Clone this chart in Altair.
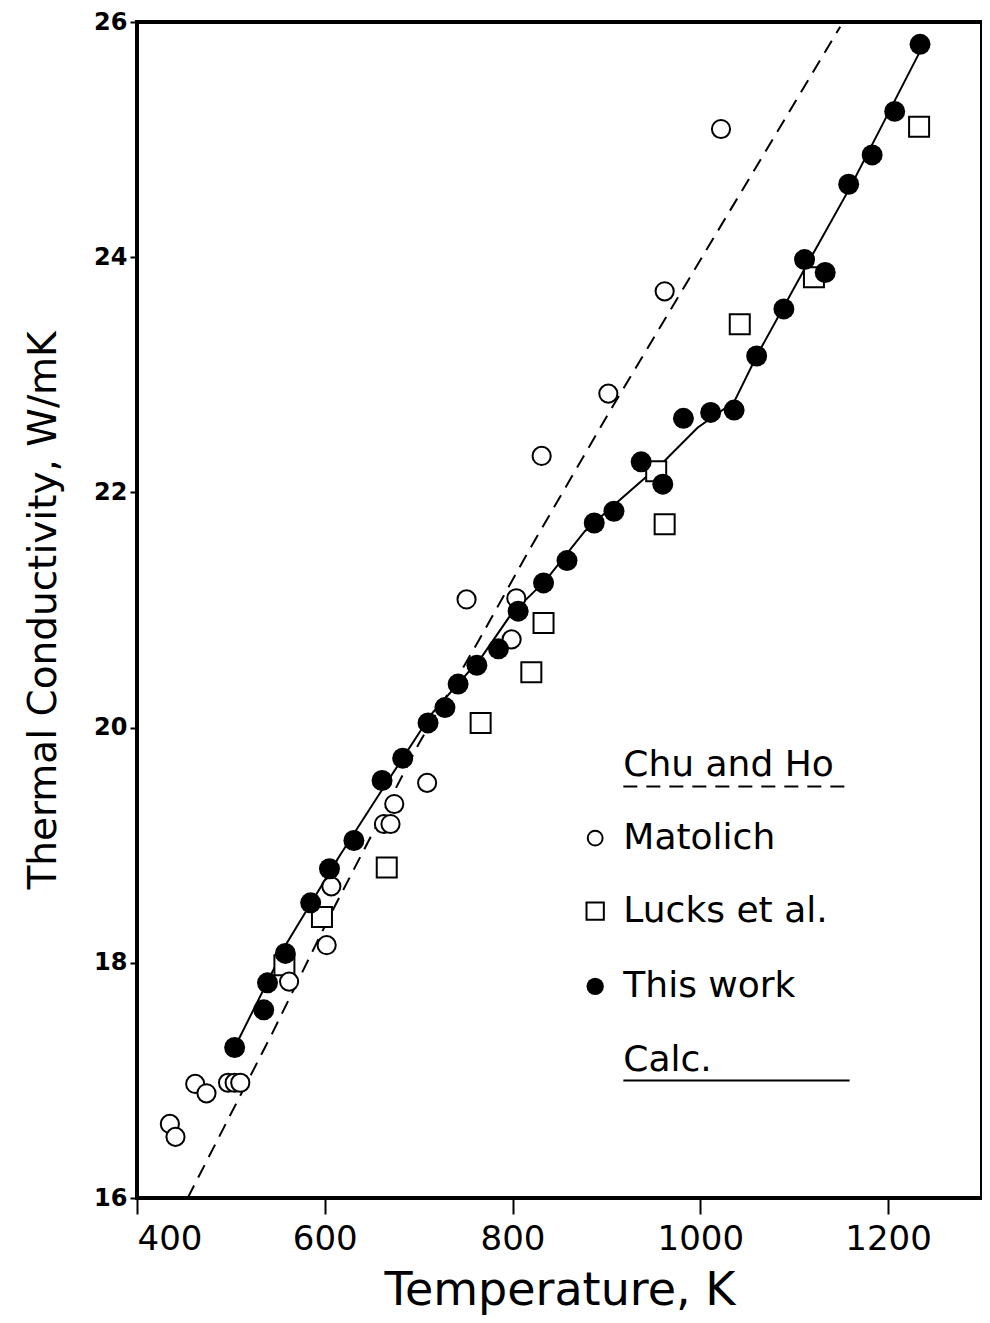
import altair as alt
import pandas as pd

# ---- data ----
# This work (filled circles)
this_T = [504, 535, 539, 558, 585, 605, 631, 661, 683, 710, 728, 742, 762, 785, 806, 833,
          858, 887, 908, 937, 960, 982, 1011, 1036, 1060, 1089, 1111, 1133, 1158, 1183, 1207, 1234]
this_K = [17.28, 17.60, 17.83, 18.08, 18.51, 18.80, 19.04, 19.55, 19.74, 20.04, 20.17, 20.37,
          20.53, 20.67, 20.99, 21.23, 21.42, 21.74, 21.84, 22.26, 22.07, 22.63, 22.68, 22.70,
          23.16, 23.56, 23.98, 23.87, 24.62, 24.87, 25.24, 25.81]
# Matolich (open circles)
mat_T = [435, 441, 462, 474, 497, 504, 510, 562, 602, 607, 663, 670, 674, 709, 751, 799, 804,
         831, 902, 962, 1022]
mat_K = [16.63, 16.52, 16.97, 16.89, 16.98, 16.98, 16.98, 17.84, 18.15, 18.65, 19.18, 19.18,
         19.35, 19.53, 21.09, 20.75, 21.10, 22.31, 22.84, 23.71, 25.09]
# Lucks et al. (open squares)
luc_T = [557, 597, 666, 766, 820, 833, 953, 962, 1042, 1121, 1233]
luc_K = [17.98, 18.39, 18.81, 20.04, 20.47, 20.89, 22.18, 21.73, 23.43, 23.83, 25.11]
# Calc. (solid line)
calc_T = [504, 559, 615, 665, 714, 767, 799, 835, 877, 909, 962, 997, 1036, 1060, 1111, 1160, 1234]
calc_K = [17.28, 18.16, 18.90, 19.52, 20.12, 20.60, 20.97, 21.25, 21.67, 21.90, 22.27, 22.55,
          22.77, 23.16, 23.90, 24.60, 25.75]
# Chu and Ho (dashed line)
chu_T = [454, 544, 608, 700, 764, 817, 905, 1149]
chu_K = [16.0, 17.4, 18.44, 19.86, 20.74, 21.5, 22.71, 25.96]

x_ticks = [400, 600, 800, 1000, 1200]
y_ticks = [16, 18, 20, 22, 24, 26]

# legend entries (placed in data space)
leg_labels = ["Chu and Ho", "Matolich", "Lucks et al.", "This work", "Calc."]
leg_T = [918, 918, 918, 918, 918]
leg_K = [19.68, 19.06, 18.44, 17.80, 17.17]
leg_sym_T = 888
line_T = [918, 1159]
chu_line_K = 19.50
calc_line_K = 17.00

FONT = "DejaVu Sans"

this_df = pd.DataFrame({"T": this_T, "K": this_K})
mat_df = pd.DataFrame({"T": mat_T, "K": mat_K})
luc_df = pd.DataFrame({"T": luc_T, "K": luc_K})
calc_df = pd.DataFrame({"T": calc_T, "K": calc_K})
chu_df = pd.DataFrame({"T": chu_T, "K": chu_K})
leg_df = pd.DataFrame({"T": leg_T, "K": leg_K, "label": leg_labels})

xs = alt.Scale(domain=[400, 1300], nice=False, zero=False)
ys = alt.Scale(domain=[16, 26], nice=False, zero=False)

X = alt.X("T:Q", scale=xs, axis=alt.Axis(
    values=x_ticks, format="d", title="Temperature, K", grid=False, domain=False,
    tickSize=16, tickWidth=2, tickColor="black", labelFontSize=34, labelFont=FONT,
    labelColor="black", labelPadding=8, titleFontSize=46, titleFont=FONT,
    titleFontWeight="normal", titleColor="black", titlePadding=12))
Y = alt.Y("K:Q", scale=ys, axis=alt.Axis(
    values=y_ticks, format="d", title="Thermal Conductivity, W/mK", grid=False, domain=False,
    tickSize=7, tickWidth=2, tickColor="black", labelFontSize=24, labelFont=FONT,
    labelFontWeight="bold", labelColor="black", labelPadding=3, titleFontSize=39,
    titleFont=FONT, titleFontWeight="normal", titleColor="black", titlePadding=30))

chu = alt.Chart(chu_df).mark_line(color="black", strokeWidth=2, strokeDash=[14, 9],
                                  clip=True).encode(x=X, y=Y, order="T:Q")
calc = alt.Chart(calc_df).mark_line(color="black", strokeWidth=2).encode(x=X, y=Y, order="T:Q")
luc = alt.Chart(luc_df).mark_point(shape="square", size=400, filled=True, fill="white",
                                   stroke="black", strokeWidth=2, opacity=1).encode(x=X, y=Y)
mat = alt.Chart(mat_df).mark_point(shape="circle", size=330, filled=True, fill="white",
                                   stroke="black", strokeWidth=2, opacity=1).encode(x=X, y=Y)
this = alt.Chart(this_df).mark_point(shape="circle", size=440, filled=True, fill="black",
                                     opacity=1).encode(x=X, y=Y)

# legend
leg_text = alt.Chart(leg_df).mark_text(align="left", baseline="middle", fontSize=36,
                                       font=FONT, color="black").encode(x=X, y=Y, text="label:N")
sym_mat = alt.Chart(pd.DataFrame({"T": [leg_sym_T], "K": [leg_K[1]]})).mark_point(
    shape="circle", size=220, filled=True, fill="white", stroke="black", strokeWidth=2,
    opacity=1).encode(x=X, y=Y)
sym_luc = alt.Chart(pd.DataFrame({"T": [leg_sym_T], "K": [leg_K[2]]})).mark_point(
    shape="square", size=300, filled=True, fill="white", stroke="black", strokeWidth=2,
    opacity=1).encode(x=X, y=Y)
sym_this = alt.Chart(pd.DataFrame({"T": [leg_sym_T], "K": [leg_K[3]]})).mark_point(
    shape="circle", size=300, filled=True, fill="black", opacity=1).encode(x=X, y=Y)
chu_leg = alt.Chart(pd.DataFrame({"T": line_T, "K": [chu_line_K] * 2})).mark_line(
    color="black", strokeWidth=2, strokeDash=[14, 9]).encode(x=X, y=Y)
calc_leg = alt.Chart(pd.DataFrame({"T": line_T, "K": [calc_line_K] * 2})).mark_line(
    color="black", strokeWidth=2).encode(x=X, y=Y)

chart = alt.layer(chu, calc, luc, mat, this, leg_text, sym_mat, sym_luc, sym_this,
                  chu_leg, calc_leg).properties(
    width=845, height=1176,
    autosize=alt.AutoSizeParams(type="none"),
    padding={"left": 129, "top": 14, "right": 0, "bottom": 117},
).configure(background="white").configure_view(stroke="black", strokeWidth=4)

chart.save("out.html", embed_options={"renderer": "svg", "actions": False})
